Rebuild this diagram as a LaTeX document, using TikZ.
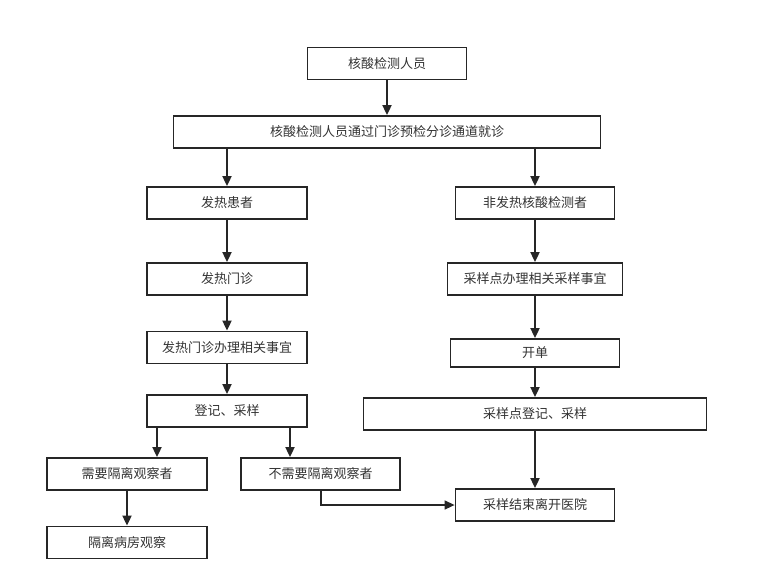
\documentclass[tikz,border=0pt]{standalone}
\usepackage{fontspec}
\newfontfamily\cjk{Noto Sans CJK SC}
\usepackage{tikz}
\usetikzlibrary{positioning}
\usetikzlibrary{arrows.meta}

\begin{document}
\begin{tikzpicture}[x=1pt,y=-1pt,>={Triangle[length=10pt,width=9pt]},
	link/.style={->,draw=black!85,line width=1.8pt},
	step node/.style={rectangle,draw=black!85,line width=1.8pt,fill=white,
		minimum height=32pt,inner sep=0pt,
		font=\cjk\fontsize{13}{15}\selectfont,text=black!80}]
	
	\useasboundingbox (0,0) rectangle (767,563);
	
	% top
	\node[step node, minimum width=159pt] (staff) at (387,63.5) {核酸检测人员};
	\node[step node, minimum width=427pt] (via) at (387,132) {核酸检测人员通过门诊预检分诊通道就诊};
	
	% left branch
	\node[step node, minimum width=160pt] (fever) at (227,203) {发热患者};
	\node[step node, minimum width=160pt] (fclinic) at (227,279) {发热门诊};
	\node[step node, minimum width=160pt] (fhandle) at (227,347.5) {发热门诊办理相关事宜};
	\node[step node, minimum width=160pt] (freg) at (227,411) {登记、采样};
	\node[step node, minimum width=160pt] (iso) at (127,474) {需要隔离观察者};
	\node[step node, minimum width=159pt] (noiso) at (320.5,474) {不需要隔离观察者};
	\node[step node, minimum width=160pt] (ward) at (127,542.5) {隔离病房观察};
	
	% right branch
	\node[step node, minimum width=159pt] (nonf) at (535,203) {非发热核酸检测者};
	\node[step node, minimum width=175pt] (nproc) at (535,279) {采样点办理相关采样事宜};
	\node[step node, minimum width=169pt, minimum height=28pt] (bill) at (535,353) {开单};
	\node[step node, minimum width=343pt] (nreg) at (535,414) {采样点登记、采样};
	\node[step node, minimum width=159pt] (leave) at (535,505) {采样结束离开医院};
	
	\draw[link] (staff) -- (via);
	\draw[link] (fever |- via.south) -- (fever);
	\draw[link] (nonf |- via.south) -- (nonf);
	\draw[link] (fever) -- (fclinic);
	\draw[link] (fclinic) -- (fhandle);
	\draw[link] (fhandle) -- (freg);
	\draw[link] ([xshift=-70pt]freg.south) -- ([xshift=-70pt]freg.south |- iso.north);
	\draw[link] ([xshift=63pt]freg.south) -- ([xshift=63pt]freg.south |- noiso.north);
	\draw[link] (iso) -- (ward);
	\draw[link] (nonf) -- (nproc);
	\draw[link] (nproc) -- (nproc |- bill.north);
	\draw[link] (bill) -- (bill |- nreg.north);
	\draw[link] (nreg) -- (leave);
	\draw[link, line width=1.4pt] ([xshift=0.5pt]noiso.south) |- (leave.west);
\end{tikzpicture}
\end{document}
